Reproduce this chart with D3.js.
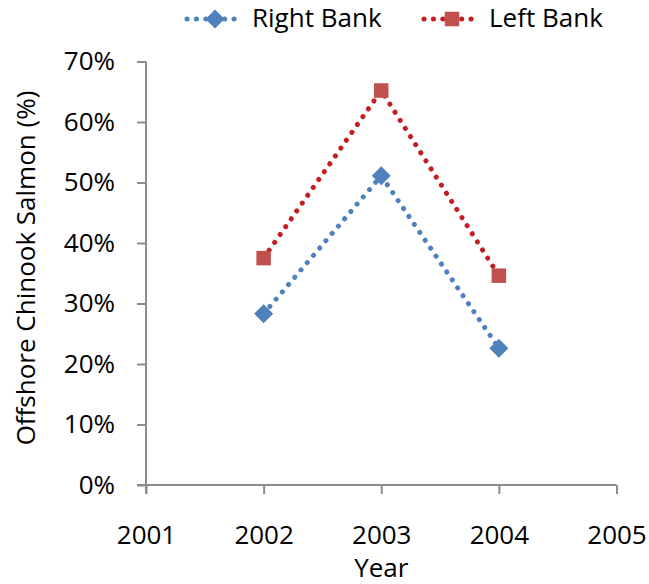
<!DOCTYPE html>
<html><head><meta charset="utf-8">
<script src="https://cdn.jsdelivr.net/npm/d3@7"></script>
<style>body{margin:0;background:#fff}svg{display:block}text{font-family:"Open Sans","Noto Sans",sans-serif;fill:#000}</style>
</head><body>
<svg id="c" width="649" height="584"></svg>
<script>
const years = [2002, 2003, 2004];
const rightBank = [0.283, 0.511, 0.226];
const leftBank = [0.375, 0.652, 0.346];
const xTicks = [2001, 2002, 2003, 2004, 2005];
const yTicks = [0, 0.1, 0.2, 0.3, 0.4, 0.5, 0.6, 0.7];
const seriesNames = ["Right Bank", "Left Bank"];

const svg = d3.select("#c");
const x = d3.scaleLinear().domain([2001, 2005]).range([146, 616.5]);
const y = d3.scaleLinear().domain([0, 0.7]).range([485, 61.5]);
const axisColor = "#8c8c8c";
const fs = 26;

// Y axis
const ya = svg.append("g").attr("transform", "translate(146,0)")
  .call(d3.axisLeft(y).tickValues(yTicks).tickFormat(d3.format(".0%")).tickSize(9).tickPadding(22));
ya.select(".domain").remove();
ya.append("line").attr("x1",0).attr("x2",0).attr("y1",y(0.7)).attr("y2",y(0)+9);
ya.selectAll("line").attr("stroke", axisColor).attr("stroke-width", 2);
ya.selectAll("text").attr("font-size", fs).attr("fill","#000").style("font-family","'Open Sans'");

// X axis
const xa = svg.append("g").attr("transform", "translate(0,485)")
  .call(d3.axisBottom(x).tickValues(xTicks).tickFormat(d3.format("d")).tickSize(9).tickPadding(32));
xa.select(".domain").remove();
xa.append("line").attr("x1",x(2001)-9).attr("x2",x(2005)).attr("y1",0).attr("y2",0);
xa.selectAll("line").attr("stroke", axisColor).attr("stroke-width", 2);
xa.selectAll("text").attr("font-size", fs).attr("fill","#000").style("font-family","'Open Sans'");

// titles
svg.append("text").attr("x", x(2003)).attr("y", 577).attr("text-anchor","middle").attr("font-size", fs).text("Year");
svg.append("text").attr("transform","translate(35,268) rotate(-90)").attr("text-anchor","middle").attr("font-size", fs).text("Offshore Chinook Salmon (%)");

const series = [
  {name: seriesNames[0], vals: rightBank, line: "#4f81bd", fill: "#4f81bd", size: 180, rot: 45},
  {name: seriesNames[1], vals: leftBank, line: "#c41e24", fill: "#c0504d", size: 210, rot: 0}
];
const line = d3.line().x(d => x(d[0])).y(d => y(d[1]));
series.forEach(s => {
  const pts = years.map((yr, i) => [yr, s.vals[i]]);
  svg.append("path").datum(pts).attr("d", line).attr("fill","none")
    .attr("stroke", s.line).attr("stroke-width", 5).attr("stroke-linecap","round").attr("stroke-dasharray","0.1 9.5");
  svg.selectAll(null).data(pts).enter().append("path")
    .attr("d", d3.symbol().type(d3.symbolSquare).size(s.size))
    .attr("transform", d => `translate(${x(d[0])},${y(d[1])}) rotate(${s.rot})`)
    .attr("fill", s.fill);
});

// legend
const leg = [{cx: 215, tx: 252}, {cx: 452, tx: 489}];
series.forEach((s, i) => {
  const g = svg.append("g");
  g.append("line").attr("x1", leg[i].cx - 28).attr("x2", leg[i].cx + 28).attr("y1", 19).attr("y2", 19)
    .attr("stroke", s.line).attr("stroke-width", 5).attr("stroke-linecap","round").attr("stroke-dasharray","0.1 9.3");
  g.append("path").attr("d", d3.symbol().type(d3.symbolSquare).size(s.size)).attr("transform", `translate(${leg[i].cx},19) rotate(${s.rot})`).attr("fill", s.fill);
  g.append("text").attr("x", leg[i].tx).attr("y", 27).attr("font-size", fs).text(s.name);
});
</script>
</body></html>
